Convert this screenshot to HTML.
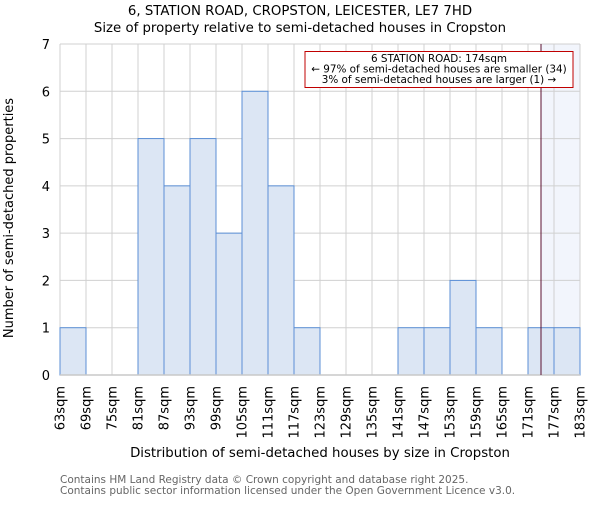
<!DOCTYPE html>
<html><head><meta charset="utf-8"><style>
body{margin:0;background:#fff}
svg text{font-family:"DejaVu Sans","Liberation Sans",sans-serif}
</style></head><body>
<svg id="c" width="600" height="500">
<text x="300" y="15" text-anchor="middle" font-size="13.3">6, STATION ROAD, CROPSTON, LEICESTER, LE7 7HD</text>
<text x="300" y="32" text-anchor="middle" font-size="13.3">Size of property relative to semi-detached houses in Cropston</text>
<g id="plot"></g>
<text x="320" y="457" text-anchor="middle" font-size="13.3">Distribution of semi-detached houses by size in Cropston</text>
<text transform="translate(13,218) rotate(-90)" text-anchor="middle" font-size="13">Number of semi-detached properties</text>
<text x="60" y="483" font-size="10.5" fill="#666">Contains HM Land Registry data © Crown copyright and database right 2025.</text>
<text x="60" y="494" font-size="10.5" fill="#666">Contains public sector information licensed under the Open Government Licence v3.0.</text>
</svg>
<script>
const binStarts=[63,69,75,81,87,93,99,105,111,117,123,129,135,141,147,153,159,165,171,177];
const counts=[1,0,0,5,4,5,3,6,4,1,0,0,0,1,1,2,1,0,1,1];
const tickLabels=["63sqm","69sqm","75sqm","81sqm","87sqm","93sqm","99sqm","105sqm","111sqm","117sqm","123sqm","129sqm","135sqm","141sqm","147sqm","153sqm","159sqm","165sqm","171sqm","177sqm","183sqm"];
const yTicks=[0,1,2,3,4,5,6,7];
const subjectSize=174;
const annotLines=["6 STATION ROAD: 174sqm","← 97% of semi-detached houses are smaller (34)","3% of semi-detached houses are larger (1) →"];
const NS="http://www.w3.org/2000/svg";
const x0=60,x1=580,y0=375,y1=44,xmin=63,xmax=183,ymax=7;
const X=v=>x0+(v-xmin)/(xmax-xmin)*(x1-x0);
const Y=v=>y0-v/ymax*(y0-y1);
const g=document.getElementById('plot');
function mk(t,a){const e=document.createElementNS(NS,t);for(const k in a)e.setAttribute(k,a[k]);g.appendChild(e);return e;}
const bw=X(xmin+6)-X(xmin);
const sh=mk('rect',{x:X(subjectSize),y:y1,width:x1-X(subjectSize),height:y0-y1,fill:'#f2f5fc'});


yTicks.forEach(v=>{const l=mk('line',{x1:x0,x2:x1,y1:Y(v),y2:Y(v),stroke:'#d0d0d0','stroke-width':1});


const t=mk('text',{x:x0-10,y:Y(v)+5,'text-anchor':'end','font-size':13});t.textContent=v;

});
tickLabels.forEach((s,i)=>{const xv=X(xmin+6*i);const l=mk('line',{x1:xv,x2:xv,y1:y1,y2:y0,stroke:'#d0d0d0','stroke-width':1});


const t=mk('text',{transform:`translate(${xv+4.5},386) rotate(-90)`,'text-anchor':'end','font-size':13});t.textContent=s;

});
counts.forEach((c,i)=>{if(!c)return;const r=mk('rect',{x:X(binStarts[i]),y:Y(c),width:bw,height:Y(0)-Y(c),fill:'#dce6f4',stroke:'#5b8fd6','stroke-width':1});

});
const ax=mk('line',{x1:x0,x2:x1,y1:y0,y2:y0,stroke:'#c8c8c8','stroke-width':1.5});


const sl=mk('line',{x1:X(subjectSize),x2:X(subjectSize),y1:y1,y2:y0,stroke:'#5a1030','stroke-width':1});


const ab=mk('rect',{x:305,y:51.5,width:268,height:36,fill:'#fff',stroke:'#c00000','stroke-width':1});


annotLines.forEach((s,i)=>{const t=mk('text',{x:439,y:62+i*10.5,'text-anchor':'middle','font-size':10.4});t.textContent=s;

});
</script>
</body></html>
